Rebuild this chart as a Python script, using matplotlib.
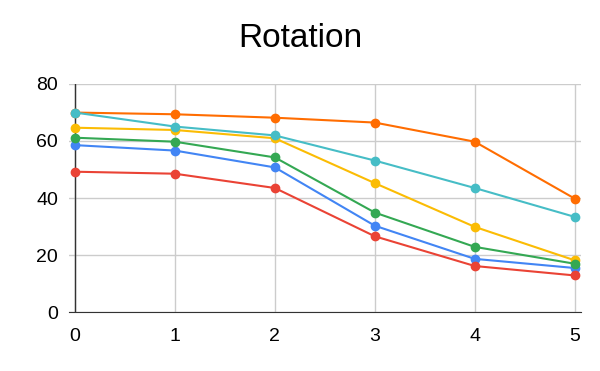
import matplotlib.pyplot as plt

x = [0, 1, 2, 3, 4, 5]

# series values (drawing order = google default order)
blue = [58.5, 56.6, 50.7, 30.3, 18.7, 15.5]
red = [49.2, 48.5, 43.5, 26.6, 16.2, 12.9]
yellow = [64.6, 63.8, 60.9, 45.2, 29.9, 18.2]
green = [61.1, 59.7, 54.2, 34.9, 22.9, 17.0]
orange = [69.9, 69.3, 68.1, 66.4, 59.7, 39.8]
teal = [69.9, 65.0, 61.9, 53.1, 43.5, 33.4]

series = [
    (blue, '#4285F4'),
    (red, '#EA4335'),
    (yellow, '#FBBC04'),
    (green, '#34A853'),
    (orange, '#FF6D01'),
    (teal, '#46BDC6'),
]

y_ticks = [0, 20, 40, 60, 80]

plt.rcParams['font.family'] = ['Liberation Sans', 'DejaVu Sans']

fig = plt.figure(figsize=(6, 3.71), dpi=100)
ax = fig.add_axes([0.115, 0.1582, 0.8533, 0.6162])

for vals, col in series:
    ax.plot(x, vals, color=col, linewidth=1.5, marker='o', markersize=6,
            zorder=3)

ax.set_xlim(-0.06, 5.063)
ax.set_ylim(0, 80)
ax.set_xticks(x)
ax.set_yticks(y_ticks)

ax.grid(True, color='#cccccc', linewidth=1)
ax.set_axisbelow(True)
ax.axvline(0, color='#333333', linewidth=1, zorder=2)

for s in ['top', 'right', 'left']:
    ax.spines[s].set_visible(False)
ax.spines['bottom'].set_color('#333333')

ax.tick_params(axis='both', length=0, labelsize=14, colors='black')
ax.tick_params(axis='y', pad=8)
ax.tick_params(axis='x', pad=11)

fig.text(0.5, 0.895, 'Rotation', ha='center', va='center', fontsize=24)

fig.savefig('out.png', dpi=100)
